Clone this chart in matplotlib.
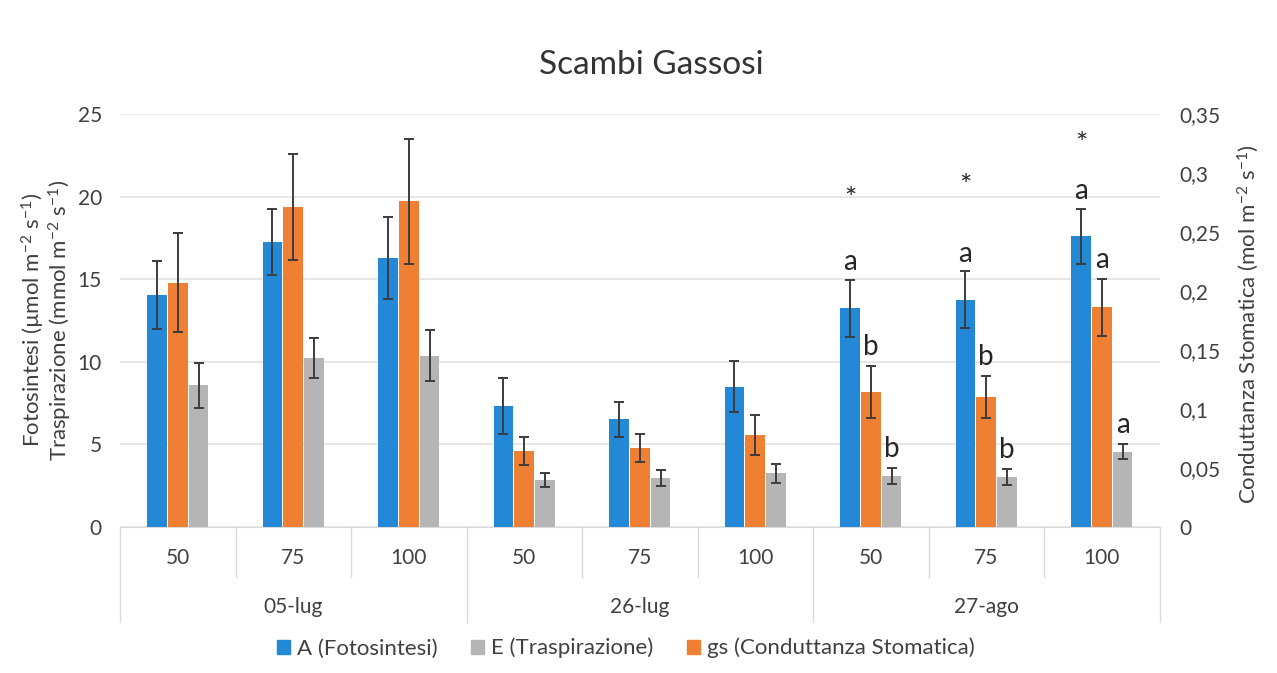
import numpy as np
import matplotlib
matplotlib.use("Agg")
import matplotlib.pyplot as plt
from matplotlib.ticker import FuncFormatter, MultipleLocator
from matplotlib.patches import Patch

plt.rcParams['font.family'] = ['Lato', 'DejaVu Sans']
plt.rcParams['mathtext.fontset'] = 'custom'
plt.rcParams['mathtext.rm'] = 'Lato'
plt.rcParams['mathtext.it'] = 'Lato:italic'

# dati
date = ["05-lug", "26-lug", "27-ago"]
dosi = ["50", "75", "100"]
A = [14.05, 17.24, 16.28, 7.31, 6.50, 8.48, 13.23, 13.74, 17.58]
A_err = [2.05, 2.00, 2.47, 1.72, 1.05, 1.54, 1.72, 1.72, 1.66]
E = [8.57, 10.24, 10.36, 2.83, 2.97, 3.24, 3.07, 2.99, 4.55]
E_err = [1.37, 1.22, 1.53, 0.42, 0.49, 0.58, 0.48, 0.49, 0.45]
gs = [0.207, 0.271, 0.276, 0.064, 0.0665, 0.078, 0.114, 0.110, 0.186]
gs_err = [0.042, 0.045, 0.053, 0.012, 0.012, 0.017, 0.022, 0.018, 0.024]

# lettere di significatività (solo 27-ago)
idx_lettere = [6, 7, 8]
lettere_A = ["a", "a", "a"]
lettere_gs = ["b", "b", "a"]
lettere_E = ["b", "b", "a"]
stelle_y = [19.8, 20.6, 23.1]

blu = "#2389D7"
arancio = "#EE7F33"
grigio = "#B5B5B5"
testo = "#404040"

fig = plt.figure(figsize=(12.77, 6.73), dpi=100)
ax = fig.add_axes([0.094, 0.2174, 0.814, 0.6132])
ax2 = ax.twinx()

x = np.arange(len(A))
w = 0.17
off = 0.18
ekw = dict(ecolor="#3C3C3C", elinewidth=1.4, capthick=1.4)

ax.bar(x - off, A, w, yerr=A_err, color=blu, capsize=3.8, error_kw=ekw, zorder=3)
ax.bar(x + off, E, w, yerr=E_err, color=grigio, capsize=3.8, error_kw=ekw, zorder=3)
ax2.bar(x, gs, w, yerr=gs_err, color=arancio, capsize=3.8, error_kw=ekw, zorder=3)

ax.set_xlim(-0.5, len(A) - 0.5)
ax.set_ylim(0, 25)
ax2.set_ylim(0, 0.35)
ax.yaxis.set_major_locator(MultipleLocator(5))
ax2.yaxis.set_major_locator(MultipleLocator(0.05))
ax2.yaxis.set_major_formatter(FuncFormatter(lambda v, p: f"{v:.2f}".rstrip("0").rstrip(".").replace(".", ",") if v else "0"))

ax.grid(axis="y", color="#E3E3E3", linewidth=1.2, zorder=0)
for a in (ax, ax2):
    for s in a.spines.values():
        s.set_visible(False)
    a.tick_params(length=0, labelsize=15, colors=testo)
ax.tick_params(axis="y", pad=13)
ax2.tick_params(axis="y", pad=14)
ax.set_xticks([])
ax.spines["bottom"].set_visible(True)
ax.spines["bottom"].set_color("#DADADA")

# etichette asse categorie a due livelli
tr = ax.get_xaxis_transform()
for i in range(len(A)):
    ax.text(i, -0.075, dosi[i % 3], transform=tr, ha="center", va="center",
            fontsize=15, color=testo)
for i in range(1, len(A)):
    bassa = -0.23 if i % 3 == 0 else -0.122
    ax.plot([i - 0.5, i - 0.5], [0, bassa], transform=tr, color="#DADADA",
            lw=1, clip_on=False)
for b in (-0.5, len(A) - 0.5):
    ax.plot([b, b], [0, -0.23], transform=tr, color="#DADADA", lw=1, clip_on=False)
for g, d in enumerate(date):
    ax.text(3 * g + 1, -0.195, d, transform=tr, ha="center", va="center",
            fontsize=15, color=testo)

# lettere e asterischi
for k, i in enumerate(idx_lettere):
    ax.text(i - off, A[i] + A_err[i] + 0.3, lettere_A[k], ha="center", va="bottom",
            fontsize=20, color="#262626")
    ax2.text(i, gs[i] + gs_err[i] + 0.005, lettere_gs[k], ha="center", va="bottom",
             fontsize=20, color="#262626")
    ax.text(i + off, E[i] + E_err[i] + 0.35, lettere_E[k], ha="center", va="bottom",
            fontsize=20, color="#262626")
    ax.text(i - off, stelle_y[k], "*", ha="center", va="center",
            fontsize=21, color="#262626")

ax.set_ylabel("Fotosintesi (µmol m$^{-2}$ s$^{-1}$)\nTraspirazione (mmol m$^{-2}$ s$^{-1}$)",
              fontsize=16, color=testo, linespacing=1.0)
ax.yaxis.set_label_coords(-0.044, 0.5)
ax2.set_ylabel("Conduttanza Stomatica (mol m$^{-2}$ s$^{-1}$)", fontsize=16,
               color=testo, rotation=90)
ax2.yaxis.set_label_coords(1.073, 0.49)

fig.text(0.51, 0.903, "Scambi Gassosi", ha="center", va="center", fontsize=24,
         color="#333333")

handles = [Patch(color=blu, label="A (Fotosintesi)"),
           Patch(color=grigio, label="E (Traspirazione)"),
           Patch(color=arancio, label="gs (Conduttanza Stomatica)")]
leg = fig.legend(handles=handles, loc="center", bbox_to_anchor=(0.49, 0.037), ncol=3,
                 frameon=False, fontsize=16, handlelength=0.6, handleheight=0.6,
                 handletextpad=0.3, columnspacing=1.5)
for t in leg.get_texts():
    t.set_color(testo)

fig.savefig("out.png", dpi=100)
